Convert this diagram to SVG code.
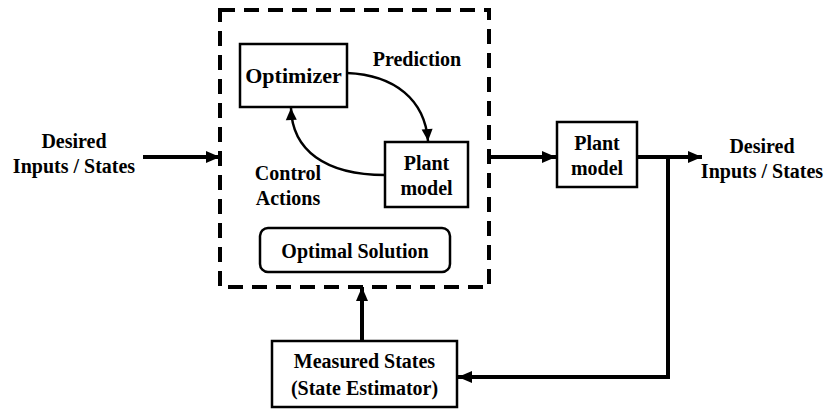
<svg xmlns="http://www.w3.org/2000/svg" width="831" height="411" viewBox="0 0 831 411">
  <style>
    .lbl { font-family: 'Liberation Serif', 'DejaVu Serif', serif; font-weight: 700; font-size: 20px; fill: #000; text-anchor: middle; }
    .big { font-size: 22px; }
    .box { fill: #fff; stroke: #000; stroke-width: 2.5; }
    .wire { fill: none; stroke: #000; stroke-width: 4; }
    .thin { fill: none; stroke: #000; stroke-width: 2.5; }
  </style>
  <defs>
    <marker id="head" markerUnits="userSpaceOnUse" markerWidth="16" markerHeight="16" viewBox="0 0 16 16" refX="15" refY="8" orient="auto">
      <path d="M1,2 L15,8 L1,14 Z" fill="#000"/>
    </marker>
    <marker id="headSmall" markerUnits="userSpaceOnUse" markerWidth="14" markerHeight="14" viewBox="0 0 14 14" refX="13" refY="7" orient="auto">
      <path d="M1,1.5 L13,7 L1,12.5 Z" fill="#000"/>
    </marker>
  </defs>

  <rect width="831" height="411" fill="#fff"/>

  <!-- controller boundary -->
  <g id="controller">
    <rect x="220" y="10" width="269" height="277" fill="none" stroke="#000" stroke-width="4" stroke-dasharray="15 9"/>
  </g>

  <g id="optimizer">
    <rect class="box" x="240" y="44" width="107" height="63"/>
    <text class="lbl big" x="293.5" y="83">Optimizer</text>
  </g>

  <g id="inner-plant">
    <rect class="box" x="385" y="142" width="83" height="65"/>
    <text class="lbl" x="426.5" y="170">Plant</text>
    <text class="lbl" x="426.5" y="195">model</text>
  </g>

  <g id="optimal-solution">
    <rect class="box" x="260" y="228" width="190" height="44" rx="8" ry="8"/>
    <text class="lbl" x="355" y="258">Optimal Solution</text>
  </g>

  <g id="plant">
    <rect class="box" x="557" y="122" width="80" height="65"/>
    <text class="lbl" x="597" y="150">Plant</text>
    <text class="lbl" x="597" y="175">model</text>
  </g>

  <g id="estimator">
    <rect class="box" x="272" y="341" width="185" height="66"/>
    <text class="lbl" x="364.5" y="368">Measured States</text>
    <text class="lbl" x="364.5" y="395">(State Estimator)</text>
  </g>

  <!-- free labels -->
  <g id="labels">
    <text class="lbl" x="417" y="66">Prediction</text>
    <text class="lbl" x="288" y="180">Control</text>
    <text class="lbl" x="288" y="205">Actions</text>
    <text class="lbl" x="74" y="148">Desired</text>
    <text class="lbl" x="74" y="173">Inputs / States</text>
    <text class="lbl" x="762" y="153">Desired</text>
    <text class="lbl" x="762" y="178">Inputs / States</text>
  </g>

  <g id="connectors">
    <path class="wire" d="M143,157 H220" marker-end="url(#head)"/>
    <path class="wire" d="M489,157 H556" marker-end="url(#head)"/>
    <path class="wire" d="M637,157 H702" marker-end="url(#head)"/>
    <path class="wire" d="M668,157 V377 H458" marker-end="url(#head)"/>
    <path class="wire" d="M362,341 V287" marker-end="url(#head)"/>
    <path class="thin" d="M347,73 C395,75 425,100 428,141" marker-end="url(#headSmall)"/>
    <path class="thin" d="M385,175 C325,175 292,150 291,108" marker-end="url(#headSmall)"/>
  </g>
</svg>
